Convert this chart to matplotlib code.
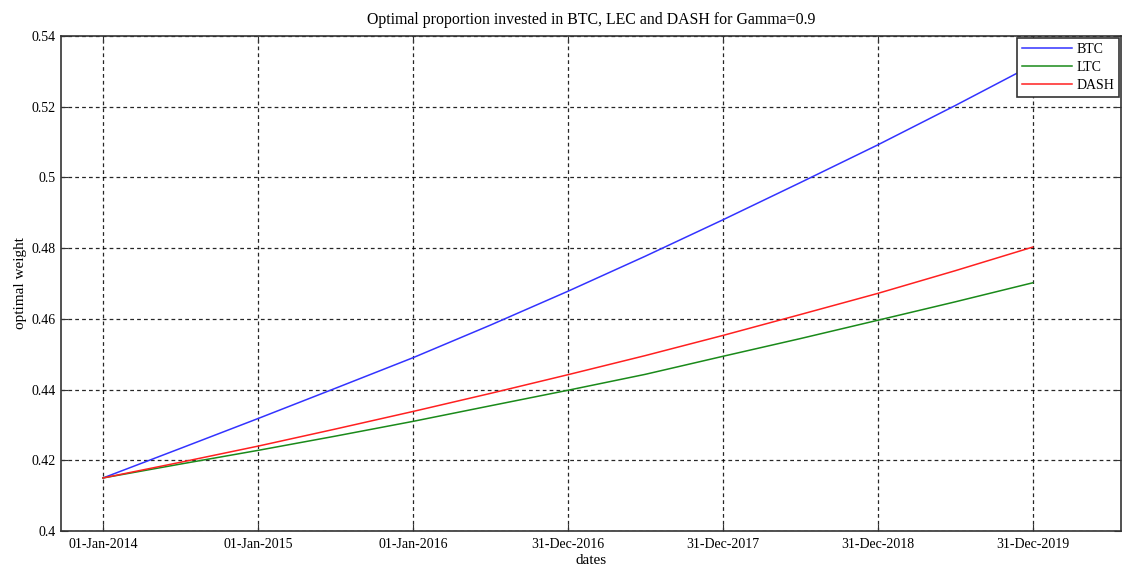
import numpy as np
import pandas as pd
import matplotlib
matplotlib.use("Agg")
import matplotlib.pyplot as plt

# values
dates = pd.to_datetime(["2014-01-01", "2014-07-01", "2015-01-01", "2015-07-01", "2016-01-01",
                        "2016-07-01", "2016-12-31", "2017-07-01", "2017-12-31", "2018-07-01",
                        "2018-12-31", "2019-07-01", "2019-12-31"])
btc = [0.415, 0.4233, 0.4318, 0.4403, 0.4490, 0.4582, 0.4678, 0.4777, 0.4880, 0.4985,
       0.5092, 0.5203, 0.5318]
ltc = [0.415, 0.4189, 0.4228, 0.4268, 0.4310, 0.4354, 0.4398, 0.4443, 0.4494, 0.4544,
       0.4596, 0.4648, 0.4702]
dash = [0.415, 0.4194, 0.4240, 0.4288, 0.4338, 0.4389, 0.4442, 0.4496, 0.4553, 0.4612,
        0.4672, 0.4736, 0.4803]

tick_dates = pd.to_datetime(["2014-01-01", "2015-01-01", "2016-01-01", "2016-12-31",
                             "2017-12-31", "2018-12-31", "2019-12-31"])
tick_labels = ["01-Jan-2014", "01-Jan-2015", "01-Jan-2016", "31-Dec-2016",
               "31-Dec-2017", "31-Dec-2018", "31-Dec-2019"]

plt.rcParams["font.family"] = ["Liberation Serif", "DejaVu Serif"]

fig = plt.figure(figsize=(11.25, 5.68), dpi=100)
ax = fig.add_axes([61 / 1125, 1 - 531 / 568, (1121 - 61) / 1125, (531 - 36) / 568])

ax.plot(dates, btc, color="#3333ff", lw=1.1, label="BTC")
ax.plot(dates, ltc, color="#1a8a1a", lw=1.1, label="LTC")
ax.plot(dates, dash, color="#ff2020", lw=1.1, label="DASH")

ax.set_xlim(pd.Timestamp("2013-09-24"), pd.Timestamp("2020-07-26"))
ax.set_ylim(0.4, 0.54)
ax.set_yticks(np.arange(0.40, 0.541, 0.02))
ax.set_yticklabels(["0.4", "0.42", "0.44", "0.46", "0.48", "0.5", "0.52", "0.54"])
ax.set_xticks(tick_dates)
ax.set_xticklabels(tick_labels)

ax.grid(True, color="black", linestyle=(0, (3, 2.5)), lw=0.9, alpha=0.85)
ax.tick_params(direction="in", top=True, right=True, length=5, color="#333333", labelsize=10)
ax.tick_params(axis="x", pad=5)
ax.tick_params(axis="y", pad=4)
for s in ax.spines.values():
    s.set_color("#333333")
    s.set_linewidth(1.2)

ax.set_title("Optimal proportion invested in BTC, LEC and DASH for Gamma=0.9", fontsize=11.4, pad=9)
ax.set_xlabel("dates", fontsize=11, labelpad=2.5)
ax.set_ylabel("optimal weight", fontsize=11, labelpad=3)

leg = ax.legend(loc="upper right", fancybox=False, framealpha=1, edgecolor="#333333",
                fontsize=10, borderaxespad=0.15, handlelength=3.6, handletextpad=0.3,
                borderpad=0.35, labelspacing=0.35)
leg.get_frame().set_linewidth(1.2)

fig.savefig("out.png", dpi=100)
